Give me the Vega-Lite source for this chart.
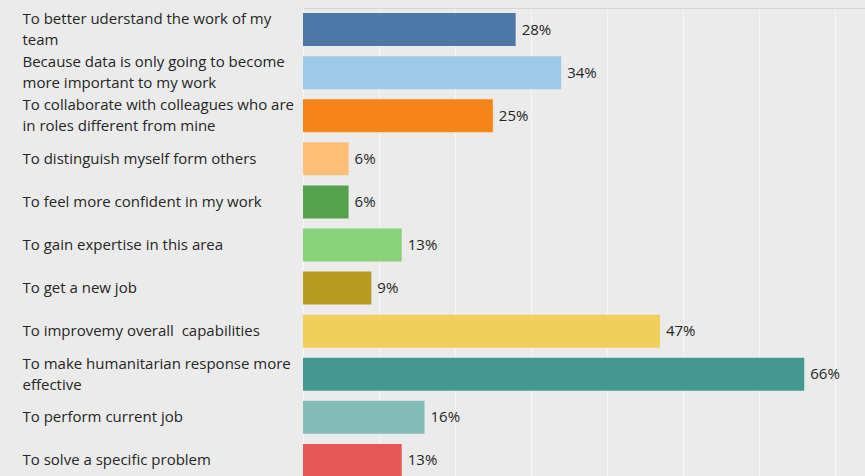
{
  "$schema": "https://vega.github.io/schema/vega-lite/v6.json",
  "width": 562,
  "height": 474,
  "padding": {"left": 22, "top": 8, "right": 0, "bottom": 0},
  "autosize": {"type": "pad"},
  "background": "#ebebeb",
  "config": {"view": {"stroke": null}, "font": "Open Sans"},
  "data": {
    "values": [
      {"reason": "To better uderstand the work of my|team", "pct": 0.28},
      {"reason": "Because data is only going to become|more important to my work", "pct": 0.34},
      {"reason": "To collaborate with colleagues who are|in roles different from mine", "pct": 0.25},
      {"reason": "To distinguish myself form others", "pct": 0.06},
      {"reason": "To feel more confident in my work", "pct": 0.06},
      {"reason": "To gain expertise in this area", "pct": 0.13},
      {"reason": "\u00a0To get a new job", "pct": 0.09},
      {"reason": "To improvemy overall \u00a0capabilities", "pct": 0.47},
      {"reason": "To make humanitarian response more|effective", "pct": 0.66},
      {"reason": "To perform current job", "pct": 0.16},
      {"reason": "To solve a specific problem", "pct": 0.13}
    ]
  },
  "encoding": {
    "y": {
      "field": "reason",
      "type": "nominal",
      "sort": null,
      "scale": {"paddingInner": 0.234, "paddingOuter": 0.117},
      "axis": {
        "title": null,
        "labelAlign": "left",
        "labelPadding": 281,
        "ticks": false,
        "tickSize": 0,
        "labelLimit": 300,
        "labelFontSize": 15,
        "labelFontWeight": 500,
        "labelColor": "#262626",
        "labelLineHeight": 21,
        "labelExpr": "split(datum.value, '|')",
        "labelOffset": {"condition": {"test": "indexof(datum.value, '|') >= 0", "value": -10.5}, "value": 0},
        "domainColor": "#f7f7f7",
        "grid": false
      }
    },
    "x": {
      "field": "pct",
      "type": "quantitative",
      "scale": {"domain": [0, 0.74], "nice": false},
      "axis": {
        "orient": "top",
        "title": null,
        "labels": false,
        "ticks": false,
        "values": [0, 0.1, 0.2, 0.3, 0.4, 0.5, 0.6, 0.7],
        "grid": true,
        "gridColor": "#f6f6f6",
        "gridWidth": 1,
        "domainColor": "#d4d4d4"
      }
    }
  },
  "layer": [
    {
      "mark": {"type": "bar"},
      "encoding": {
        "color": {
          "field": "reason",
          "type": "nominal",
          "sort": null,
          "scale": {"scheme": "tableau20"},
          "legend": null
        }
      }
    },
    {
      "mark": {"type": "text", "align": "left", "baseline": "middle", "dx": 6, "fontSize": 15, "fontWeight": 500, "color": "#262626"},
      "encoding": {
        "text": {"field": "pct", "type": "quantitative", "format": ".0%"}
      }
    }
  ]
}
